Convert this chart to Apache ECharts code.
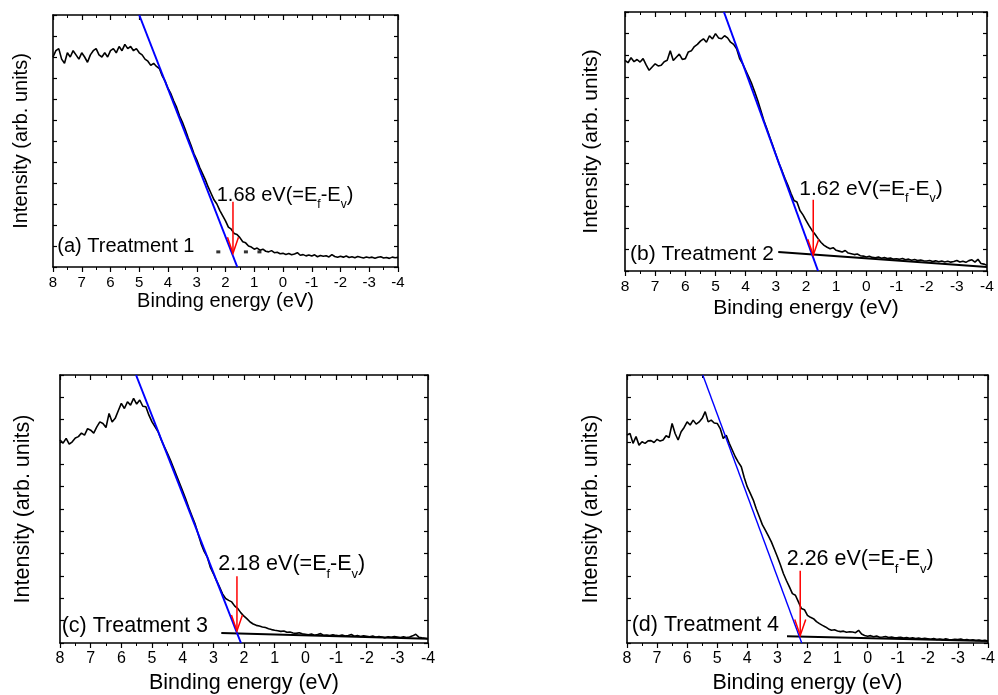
<!DOCTYPE html>
<html><head><meta charset="utf-8">
<script src="https://cdn.jsdelivr.net/npm/echarts@6/dist/echarts.min.js"></script>
<style>html,body{margin:0;padding:0;background:#fff}#c{width:998px;height:695px}</style>
</head><body><div id="c"></div>
<script>
// ---- DATA ----
// Sampling grid: binding energy from 8.0 eV down to -4.0 eV, 0.1 eV steps (121 points)
const energyStart = 8.0, energyStep = 0.1, energyCount = 121;
const xTickMin = -4, xTickMax = 8, xTickStep = 1;

const intensityA = [
 100, 103, 104, 99, 97, 102, 100, 103, 101, 99,
 102, 100, 97.5, 101, 103, 104, 101, 100, 102, 100,
 103, 104, 102, 105, 103, 106, 104, 105, 103, 104,
 102, 101, 99, 98, 96, 97, 95.5, 94.5, 91, 88.5,
 85, 82.5, 79, 76, 72, 69, 65.5, 61.5, 58, 54,
 51, 47.5, 44.5, 41.5, 38, 35, 32, 30, 27, 24.5,
 22, 19, 18, 16, 15.5, 14, 12, 11.5, 10, 9.5,
 8.5, 9, 8, 8.5, 7.5, 7.2, 7.8, 6.8, 7, 6.3,
 6.5, 6, 6.4, 5.8, 6.2, 6.8, 5.6, 5.9, 5.3, 5.7,
 5.2, 5.8, 4.9, 5.5, 5.1, 5.4, 4.8, 5.9, 5, 4.6,
 5.1, 4.7, 5.2, 4.5, 4.9, 4.4, 5, 4.6, 4.3, 4.8,
 4.4, 4.7, 4.2, 4.6, 4.9, 4.3, 4.5, 4.1, 4.7, 4.4,
 4.6];
const intensityB = [
 97.6, 96.5, 98.8, 97, 98, 96.8, 98.4, 95.5, 93, 94.5,
 96, 95, 95.3, 97, 97.6, 102, 97.5, 99, 100.5, 98,
 98.4, 101.5, 102, 104, 105, 106.5, 107.6, 106, 109, 107.5,
 110, 108, 107.6, 109, 108, 106, 105, 103, 98.4, 96,
 93, 90, 86.8, 83, 79, 74.5, 69.8, 66, 62, 58,
 54, 50, 46.6, 43, 39.7, 36, 32.7, 32, 28, 26,
 23.5, 21, 18.8, 17, 15, 13.2, 11.9, 11, 10.3, 10.8,
 9.6, 9.2, 8.8, 9.5, 8.3, 8, 7.6, 7.9, 7.1, 6.9,
 6.5, 6.8, 6.3, 6.1, 6.5, 5.9, 6.2, 5.8, 6, 5.5,
 5.7, 5.4, 5.8, 5.2, 5.5, 5, 5.3, 4.9, 5.1, 4.7,
 4.6, 4.9, 4.4, 4.7, 4.3, 4.6, 4.2, 4.5, 4.1, 4.4,
 4.9, 4.2, 4.5, 4, 4.8, 5.2, 4.1, 5.4, 3.5, 3.2,
 2.6];
const intensityC = [
 90.9, 89.5, 91.6, 89, 90.1, 91.8, 92.4, 94, 93.1, 96,
 95.3, 94, 96.8, 99, 98.3, 96.5, 102.8, 99, 100.6, 104,
 107.3, 105, 108, 106.5, 109.5, 107, 108.8, 106, 105.8, 102,
 99, 96.8, 94.6, 91, 87.9, 85, 81.9, 78.5, 75, 71.5,
 68, 64.5, 60.5, 57, 53.5, 49, 44.5, 41, 38.6, 34,
 31.1, 28, 25.1, 22, 19.9, 19.1, 18.4, 16.5, 15.4, 13.5,
 12, 10.8, 9.4, 8.5, 7.9, 7.6, 7.2, 6.9, 6.4, 6,
 5.7, 5.5, 5.2, 5.4, 4.8, 4.9, 4.5, 4.3, 4.6, 4.1,
 3.9, 3.7, 4, 3.5, 3.8, 4.2, 3.4, 3.6, 3.3, 3.7,
 3.4, 3.2, 3.6, 3.1, 3.4, 3.8, 3, 3.3, 2.9, 3.2,
 3, 2.8, 3.1, 2.6, 2.9, 2.7, 2.3, 2.8, 2.6, 2.9,
 2.7, 2.5, 2.8, 2.4, 2.7, 3.2, 3.9, 2.6, 2.3, 2.1,
 1.9];
const intensityD = [
 93.1, 93.8, 89.4, 92.4, 88.6, 90.1, 89.4, 90.5, 90.6, 89.8,
 91.2, 90.4, 90.9, 92.8, 92, 98.3, 93.8, 90.9, 94.6, 96.5,
 99, 97.6, 99.8, 98, 99, 100.6, 103.6, 99, 99.8, 98.5,
 98.3, 96, 91.6, 93, 89.4, 86.4, 83.4, 81, 78.9, 74,
 69.9, 67, 64, 60, 56.5, 53, 50.5, 48, 45.3, 42,
 38.6, 35, 31.1, 28, 25.1, 22.1, 21.4, 18.4, 15.4, 14.9,
 12.4, 11.5, 10.9, 9.6, 8.7, 7.9, 7.2, 6.3, 5.7, 5.9,
 5.4, 5.1, 5.3, 4.8, 5, 4.9, 4.6, 5.7, 4, 3.4,
 3, 3.3, 2.8, 3.1, 2.6, 2.7, 2.9, 2.5, 2.7, 2.3,
 2.4, 2.6, 2.2, 2.4, 2.1, 2.3, 2, 2.2, 1.9, 2.1,
 1.9, 1.7, 2, 1.6, 1.8, 1.5, 1.9, 1.6, 1.4, 1.7,
 1.5, 1.8, 1.3, 1.5, 1.2, 1.4, 1.1, 1.3, 1, 1.2,
 0.9];

// Linear fits of the leading edge (two end points)
const fitA = [[5.0, 120], [1.59, 0]];
const fitB = [[4.72, 120], [1.60, 0]];
const fitC = [[5.52, 120], [2.10, 0]];
const fitD = [[5.48, 120], [2.19, 0]];
// Background lines
const baselineB = [[2.92, 8.8], [-4, 1.85]];
const baselineC = [[2.74, 4.5], [-4, 1.9]];
const baselineD = [[2.68, 3.0], [-4, 0.9]];
// Panel (a) dotted background marks
const dotsA = [[2.25, 7.2], [1.29, 7.2], [0.82, 7.2]];
// Arrows: energy, start value, tip value
const arrowA = [1.74, 31.1, 6.5];
const arrowB = [1.76, 33.0, 7.3];
const arrowC = [2.23, 29.9, 5.4];
const arrowD = [2.24, 32.3, 3.4];
// Texts
const gapValues = ['1.68', '1.62', '2.18', '2.26'];
const panelLabels = ['(a) Treatment 1', '(b) Treatment 2', '(c) Treatment 3', '(d) Treatment 4'];
const xName = 'Binding energy (eV)';
const yName = 'Intensity (arb. units)';

// ---- LAYOUT / STYLE ----
const FONT = '"Liberation Sans", Arial, Helvetica, sans-serif';
const layouts = [
 {left:53, top:15, width:345, height:252, tick:15, name:20, xGap:24, yGap:22, ann:[216.7,195,20,12], lab:[57.3,246.3,20], fitW:2},
 {left:625, top:12, width:362, height:259, tick:15.5, name:21, xGap:26.5, yGap:23, ann:[799.3,189,21,12.5], lab:[630,254,21], fitW:2},
 {left:60, top:375, width:368, height:268, tick:16, name:21.5, xGap:29, yGap:25.5, ann:[218.3,564,21.5,13], lab:[61.7,626.5,21.5], fitW:2},
 {left:627, top:375, width:368, height:268, tick:16, name:21.5, xGap:29, yGap:25.3, ann:[786.7,559,21.5,13], lab:[631.7,625.3,21.5], fitW:1.4}
];

const energies = [];
for (let i = 0; i < energyCount; i++) energies.push(+(energyStart - i * energyStep).toFixed(2));
const spectra = [intensityA, intensityB, intensityC, intensityD];
const fits = [fitA, fitB, fitC, fitD];
const baselines = [null, baselineB, baselineC, baselineD];
const arrows = [arrowA, arrowB, arrowC, arrowD];

const grid = [], xAxis = [], yAxis = [], series = [];
layouts.forEach((L, i) => {
  grid.push({left: L.left, top: L.top, width: L.width, height: L.height, containLabel: false});
  const common = {gridIndex: i, type: 'value', inverse: true, min: xTickMin, max: xTickMax, interval: xTickStep,
    splitLine: {show: false}, minorSplitLine: {show: false},
    axisLine: {show: true, onZero: false, lineStyle: {color: '#000', width: 1.6}}};
  xAxis.push(Object.assign({}, common, {position: 'bottom',
    axisTick: {show: true, inside: false, length: 5, lineStyle: {color: '#000', width: 1.2}},
    minorTick: {show: true, splitNumber: 2, length: 3, lineStyle: {color: '#000', width: 1}},
    axisLabel: {show: true, color: '#000', fontSize: L.tick, fontFamily: FONT, margin: 8},
    name: xName, nameLocation: 'middle', nameGap: L.xGap,
    nameTextStyle: {color: '#000', fontSize: L.name, fontFamily: FONT}}));
  xAxis.push(Object.assign({}, common, {position: 'top',
    axisTick: {show: true, inside: true, length: 5, lineStyle: {color: '#000', width: 1.2}},
    minorTick: {show: true, splitNumber: 2, length: 3, lineStyle: {color: '#000', width: 1}},
    axisLabel: {show: false}}));
  const ycommon = {gridIndex: i, type: 'value', min: 0, max: 120, interval: 10,
    splitLine: {show: false}, axisLabel: {show: false},
    axisLine: {show: true, onZero: false, lineStyle: {color: '#000', width: 1.6}},
    axisTick: {show: true, inside: true, length: 4, lineStyle: {color: '#000', width: 1.2}}};
  yAxis.push(Object.assign({}, ycommon, {position: 'left', name: yName, nameLocation: 'middle', nameGap: L.yGap,
    nameTextStyle: {color: '#000', fontSize: L.name, fontFamily: FONT}}));
  yAxis.push(Object.assign({}, ycommon, {position: 'right'}));

  const xi = i * 2, yi = i * 2;
  series.push({type: 'line', xAxisIndex: xi, yAxisIndex: yi, showSymbol: false, symbol: 'none', animation: false,
    data: energies.map((e, k) => [e, spectra[i][k]]), lineStyle: {color: '#000', width: 1.6}, z: 3});
  if (baselines[i]) series.push({type: 'line', xAxisIndex: xi, yAxisIndex: yi, symbol: 'none', animation: false,
    data: baselines[i], lineStyle: {color: '#000', width: 2}, z: 4});
  series.push({type: 'line', xAxisIndex: xi, yAxisIndex: yi, symbol: 'none', animation: false,
    data: fits[i], lineStyle: {color: '#0000ff', width: L.fitW}, z: 5});
  const a = arrows[i];
  series.push({type: 'line', xAxisIndex: xi, yAxisIndex: yi, symbol: 'none', animation: false,
    data: [[a[0], a[1]], [a[0], a[2]]], lineStyle: {color: '#ff0000', width: 1.5}, z: 6});
  if (i === 0) series.push({type: 'scatter', xAxisIndex: xi, yAxisIndex: yi, animation: false,
    data: dotsA, symbol: 'rect', symbolSize: [4, 3], itemStyle: {color: '#000'}, z: 4});
});

const chart = echarts.init(document.getElementById('c'), null, {renderer: 'canvas'});
chart.setOption({animation: false, backgroundColor: '#fff', grid, xAxis, yAxis, series});

// arrow heads and text annotations
const ctx = document.createElement('canvas').getContext('2d');
function tw(str, size) { ctx.font = size + 'px ' + FONT; return ctx.measureText(str).width; }
const graphic = [];
layouts.forEach((L, i) => {
  const a = arrows[i];
  const p = chart.convertToPixel({gridIndex: i}, [a[0], a[2]]);
  graphic.push({type: 'polyline', z: 100, shape: {points: [[p[0] - 5.5, p[1] - 16], [p[0], p[1]], [p[0] + 5.5, p[1] - 16]]},
    style: {stroke: '#ff0000', lineWidth: 1.5, fill: null}});
  const [ax, ay, ms, ss] = L.ann;
  const parts = [[gapValues[i] + ' eV(=E', 0], ['f', 1], ['-E', 0], ['v', 1], [')', 0]];
  let x = ax;
  parts.forEach(([s, sub]) => {
    const size = sub ? ss : ms;
    graphic.push({type: 'text', x: x, y: sub ? ay + ms * 0.47 : ay, z: 100,
      style: {text: s, fontSize: size, fontFamily: FONT, fill: '#000', align: 'left', verticalAlign: 'middle'}});
    x += tw(s, size);
  });
  graphic.push({type: 'text', x: L.lab[0], y: L.lab[1], z: 100,
    style: {text: panelLabels[i], fontSize: L.lab[2], fontFamily: FONT, fill: '#000', align: 'left', verticalAlign: 'middle'}});
});
chart.setOption({graphic});
</script></body></html>
